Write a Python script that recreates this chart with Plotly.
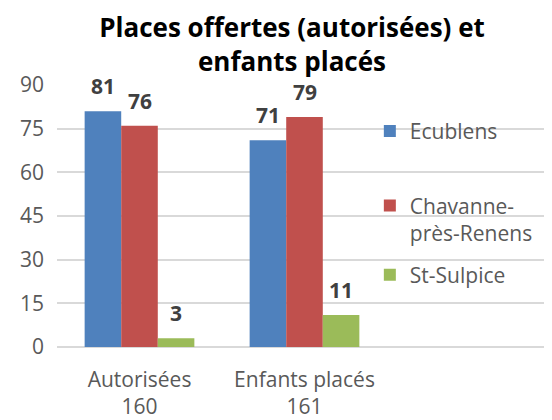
import plotly.graph_objects as go

categories = ["Autorisées", "Enfants placés", ""]
totals = ["160", "161", ""]
series_names = ["Ecublens", "Chavanne-<br>près-Renens", "St-Sulpice"]
ecublens = [81, 71]
chavanne = [76, 79]
st_sulpice = [3, 11]
colors = ["#4F81BD", "#C0504D", "#9BBB59"]
yticks = [0, 15, 30, 45, 60, 75, 90]

# page has an 8px body margin: compensate in the margins
W, H = 552, 420
ML, MR, MT, MB = 49, 8, 77, 77
bargap = 0.335
FONT = "Open Sans"
GREY = "#595959"

fig = go.Figure()
values = [ecublens, chavanne, st_sulpice]
legends = ["legend", "legend2", "legend3"]
for i, (name, vals) in enumerate(zip(series_names, values)):
    fig.add_trace(go.Bar(
        x=categories[:len(vals)], y=vals, name=name,
        marker=dict(color=colors[i], line=dict(width=0)),
        legend=legends[i],
    ))

plot_w = W - ML - MR
cat_px = plot_w / len(categories)
bar_px = cat_px * (1 - bargap) / len(values)
for i, vals in enumerate(values):
    for j, v in enumerate(vals):
        fig.add_annotation(
            x=categories[j], y=v, xref="x", yref="y",
            text=f"<b>{v}</b>", showarrow=False,
            xshift=(i - 1) * bar_px, yshift=25, yanchor="middle",
            font=dict(family=FONT, size=21, color="#404040"),
        )

ticktext = [f"{c}<br>{t}" if c else "" for c, t in zip(categories, totals)]

legend_style = dict(
    font=dict(family=FONT, size=21, color=GREY),
    bgcolor="rgba(0,0,0,0)", borderwidth=0,
    xanchor="left", x=0.632, valign="top",
)
fig.update_layout(
    width=W, height=H,
    margin=dict(l=ML, r=MR, t=MT, b=MB),
    paper_bgcolor="white", plot_bgcolor="white",
    barmode="group", bargap=bargap, bargroupgap=0,
    title=dict(
        text="<b>Places offertes (autorisées) et<br>enfants placés</b>",
        font=dict(family=FONT, size=26, color="black"),
        x=284 / W, xanchor="center", xref="container", y=0.93, yanchor="top",
    ),
    xaxis=dict(
        type="category", range=[-0.5, 2.5],
        tickmode="array", tickvals=categories, ticktext=ticktext,
        showgrid=False, showline=False, ticks="",
        ticklabelstandoff=18,
        tickfont=dict(family=FONT, size=21, color=GREY),
    ),
    yaxis=dict(
        range=[0, 90], tickvals=yticks,
        showgrid=True, gridcolor="#D9D9D9", gridwidth=1.5,
        zeroline=True, zerolinecolor="#D9D9D9", zerolinewidth=1.5,
        showline=False, ticks="", ticklen=0,
        ticklabelstandoff=12,
        tickfont=dict(family=FONT, size=21, color=GREY),
    ),
    legend=dict(**legend_style, y=(351 - 132) / 266, yanchor="middle"),
    legend2=dict(**legend_style, y=0.617, yanchor="top"),
    legend3=dict(**legend_style, y=(351 - 278) / 266, yanchor="middle"),
    showlegend=True,
)
fig.write_html("out.html")
